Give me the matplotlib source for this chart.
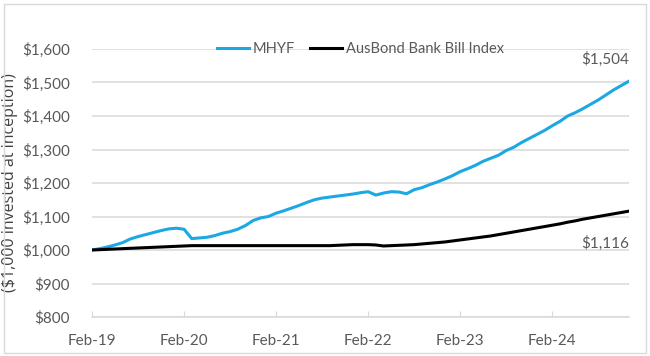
import matplotlib
matplotlib.use("Agg")
import matplotlib.pyplot as plt
import numpy as np
from matplotlib.patches import Rectangle

# Monthly values, Feb-19 .. Dec-24
mhyf = [1000, 1004, 1009, 1015, 1022, 1033, 1040, 1046, 1052, 1058, 1063, 1065,
        1062, 1034, 1036, 1038, 1043, 1050, 1055, 1062, 1073, 1088, 1096, 1100,
        1110, 1117, 1125, 1133, 1142, 1150, 1155, 1158, 1161, 1164, 1167, 1171,
        1174, 1164, 1170, 1174, 1173, 1168, 1180, 1186, 1195, 1203, 1212, 1222,
        1234, 1243, 1253, 1265, 1274, 1283, 1297, 1307, 1321, 1333, 1345, 1357,
        1371, 1384, 1400, 1410, 1422, 1435, 1448, 1463, 1478, 1491, 1504]
ausbond = [1000, 1001, 1002, 1003, 1004, 1005, 1006, 1007, 1008, 1009, 1010, 1011,
           1012, 1013, 1013, 1013, 1013, 1013, 1013, 1013, 1013, 1013, 1013, 1013,
           1013, 1013, 1013, 1013, 1013, 1013, 1013, 1013, 1014, 1015, 1016, 1016,
           1016, 1015, 1012, 1013, 1014, 1015, 1016, 1018, 1020, 1022, 1024, 1027,
           1030, 1033, 1036, 1039, 1042, 1046, 1050, 1054, 1058, 1062, 1066, 1070,
           1074, 1078, 1083, 1087, 1092, 1096, 1100, 1104, 1108, 1112, 1116]
x_tick_labels = ["Feb-19", "Feb-20", "Feb-21", "Feb-22", "Feb-23", "Feb-24"]
y_ticks = [800, 900, 1000, 1100, 1200, 1300, 1400, 1500, 1600]
series_names = ["MHYF", "AusBond Bank Bill Index"]
end_labels = ["$1,504", "$1,116"]

months = np.arange(len(mhyf))

fig = plt.figure(figsize=(6.5, 3.56), dpi=100)
fig.patch.set_facecolor("white")
fig.add_artist(Rectangle((0.006, 0.008), 0.988, 0.982, transform=fig.transFigure,
                         fill=False, edgecolor="#D9D9D9", linewidth=1.0))

ax = fig.add_axes([92/650, 1-317/356, (629-92)/650, (317-49)/356])
blue = "#1CA8E3"
ax.plot(months, mhyf, color=blue, lw=2.2, label=series_names[0], zorder=3)
ax.plot(months, ausbond, color="black", lw=2.2, label=series_names[1], zorder=3)

ax.set_xlim(0, len(mhyf) - 1)
ax.set_ylim(800, 1600)
ax.set_yticks(y_ticks)
ax.set_yticklabels([f"${v:,}" for v in y_ticks])
ax.set_xticks(months[::12])
ax.set_xticklabels(x_tick_labels)

ax.grid(axis="y", color="#D9D9D9", linewidth=1.1)
ax.set_axisbelow(True)
for s in ["top", "right", "left"]:
    ax.spines[s].set_visible(False)
ax.spines["bottom"].set_color("#D9D9D9")
ax.spines["bottom"].set_linewidth(1.1)
ax.tick_params(axis="y", length=0, pad=16, labelsize=11, labelcolor="#595959")
ax.tick_params(axis="x", direction="in", length=4, color="#D9D9D9", pad=12,
               labelsize=11, labelcolor="#595959")
for lab in ax.get_xticklabels() + ax.get_yticklabels():
    lab.set_family("Lato")

ax.set_ylabel("($1,000 invested at inception)", fontsize=11.5, color="#404040",
              family="Open Sans")
ax.yaxis.set_label_coords((18 - 92) / 537, 0.5)

leg = ax.legend(loc="center", bbox_to_anchor=(0.5, 1.0), ncol=2, frameon=False,
                handlelength=2.2, handletextpad=0.3, columnspacing=1.0,
                prop={"family": "Lato", "size": 10.5})
for t in leg.get_texts():
    t.set_color("#595959")

ax.annotate(end_labels[0], xy=(months[-1], mhyf[-1]), xytext=(0, 10),
            textcoords="offset points", ha="right", va="bottom", fontsize=11,
            color="#595959", family="Lato")
ax.annotate(end_labels[1], xy=(months[-1], ausbond[-1]), xytext=(0, -18),
            textcoords="offset points", ha="right", va="top", fontsize=11,
            color="#595959", family="Lato")

fig.savefig("out.png", dpi=100)
